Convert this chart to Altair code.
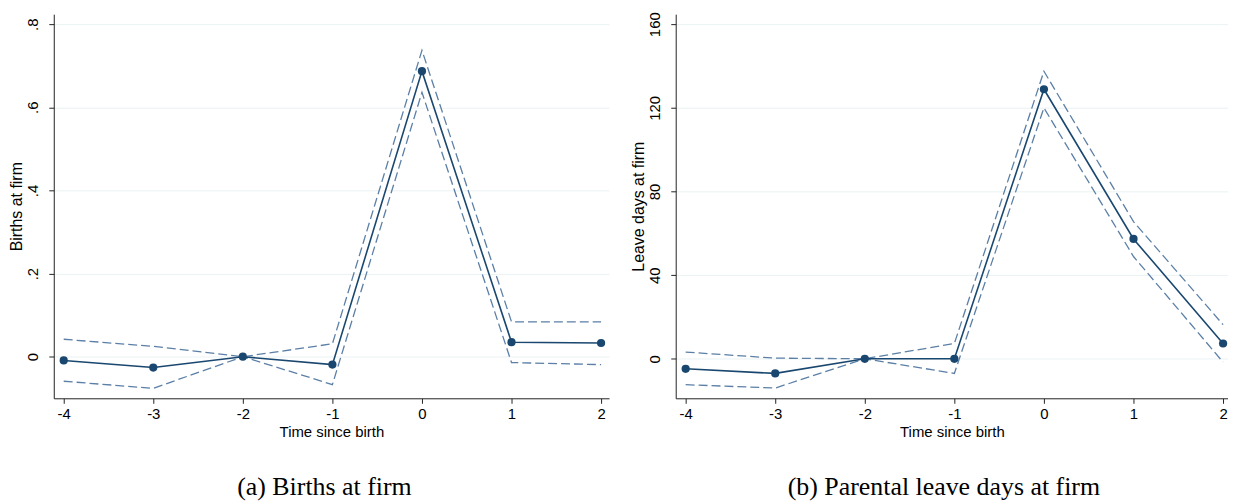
import altair as alt
import pandas as pd

t = [-4, -3, -2, -1, 0, 1, 2]

births_est = [-0.009, -0.026, 0.0, -0.019, 0.687, 0.035, 0.033]
births_hi = [0.042, 0.025, 0.0, 0.031, 0.737, 0.084, 0.084]
births_lo = [-0.059, -0.076, 0.0, -0.067, 0.636, -0.014, -0.019]

leave_est = [-4.8, -7.0, 0.0, 0.0, 128.9, 57.3, 7.3]
leave_hi = [3.2, 0.3, 0.0, 7.3, 137.5, 65.6, 16.3]
leave_lo = [-12.4, -14.0, 0.0, -7.0, 120.0, 48.9, -1.6]

births_ticks = [0, 0.2, 0.4, 0.6, 0.8]
leave_ticks = [0, 40, 80, 120, 160]

NAVY = "#1a476f"
CI = "#5b7fa6"
FONT = "Liberation Sans"


def panel(est, lo, hi, xdom, ydom, yticks, ytitle, caption, label_expr, w, dx):
    df = pd.DataFrame({"t": t, "est": est, "lo": lo, "hi": hi})
    base = alt.Chart(df)
    x = alt.X("t:Q",
              scale=alt.Scale(domain=xdom, nice=False, zero=False),
              axis=alt.Axis(values=t, title="Time since birth",
                            labelExpr="'' + datum.value",
                            grid=False, labelPadding=3, titlePadding=3,
                            labelFontSize=15, titleFontSize=15))
    yaxis = alt.Axis(values=yticks, title=ytitle, grid=True, labelAngle=270,
                     labelAlign="center", labelBaseline="bottom",
                     labelExpr=label_expr, labelPadding=8, titlePadding=1,
                     labelFontSize=15, titleFontSize=16)
    ysc = alt.Scale(domain=ydom, nice=False, zero=False)
    hi_l = base.mark_line(color=CI, strokeDash=[9, 4], strokeWidth=1.3).encode(
        x=x, y=alt.Y("hi:Q", scale=ysc, axis=yaxis))
    lo_l = base.mark_line(color=CI, strokeDash=[9, 4], strokeWidth=1.3).encode(
        x=x, y=alt.Y("lo:Q", scale=ysc, axis=yaxis))
    est_l = base.mark_line(color=NAVY, strokeWidth=1.6).encode(
        x=x, y=alt.Y("est:Q", scale=ysc, axis=yaxis))
    est_p = base.mark_circle(color=NAVY, size=68, opacity=1).encode(
        x=x, y=alt.Y("est:Q", scale=ysc, axis=yaxis))
    return alt.layer(hi_l, lo_l, est_l, est_p).properties(
        width=w, height=386,
        title=alt.TitleParams(caption, orient="bottom", anchor="middle",
                              font="Liberation Serif", fontSize=26,
                              fontWeight="normal", color="black", offset=35,
                              dx=dx))


left = panel(births_est, births_lo, births_hi, [-4.111, 2.089],
             [-0.1, 0.824], births_ticks,
             "Births at firm",
             "(a) Births at firm",
             "datum.value == 0 ? '0' : '.' + format(datum.value * 10, 'd')",
             558, -7)
right = panel(leave_est, leave_lo, leave_hi, [-4.111, 2.055],
              [-18.9, 164.8], leave_ticks,
              "Leave days at firm",
              "(b) Parental leave days at firm",
              "format(datum.value, 'd')", 555, -8)

chart = alt.hconcat(left, right, spacing=22).properties(
    padding={"left": 1, "top": 2, "right": 0, "bottom": 0}
).configure_view(stroke=None).configure_axis(
    domainColor="#222222", tickColor="#222222", tickSize=5,
    labelFont=FONT, labelColor="black",
    titleFont=FONT, titleFontWeight="normal", titleColor="black",
    gridColor="#eaf2f3", gridWidth=1
)

chart.save("out.html", embed_options={"renderer": "svg", "actions": False})
